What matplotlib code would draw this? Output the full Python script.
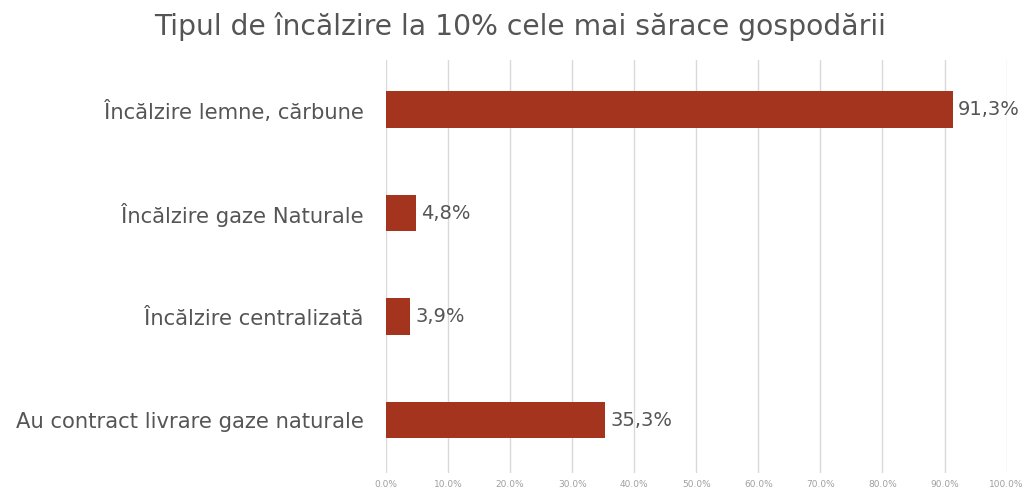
import matplotlib
matplotlib.use("Agg")
import matplotlib.pyplot as plt
from matplotlib.ticker import FuncFormatter

categories = ["Încălzire lemne, cărbune", "Încălzire gaze Naturale",
              "Încălzire centralizată", "Au contract livrare gaze naturale"]
values = [91.3, 4.8, 3.9, 35.3]
value_labels = ["91,3%", "4,8%", "3,9%", "35,3%"]
title = "Tipul de încălzire la 10% cele mai sărace gospodării"

plt.rcParams['font.family'] = ['DejaVu Sans']
txt = "#555555"
fig = plt.figure(figsize=(10.24, 4.91), dpi=100)
ax = fig.add_axes([0.377, 0.037, 0.606, 0.841])

pos = list(range(len(categories)))
ax.barh(pos, values, height=0.35, color="#A5341F", zorder=3)
for p, v, lab in zip(pos, values, value_labels):
    ax.text(v + 0.9, p, lab, va="center", ha="left", fontsize=14, color=txt)

ax.set_xlim(0, 100)
ax.set_ylim(3.51, -0.48)
ax.set_xticks(range(0, 101, 10))
ax.xaxis.set_major_formatter(FuncFormatter(lambda x, _: f"{x:.1f}%"))
ax.tick_params(axis="x", labelsize=6.5, colors="#A0A0A0", length=0, pad=5)
ax.set_yticks(pos)
ax.set_yticklabels(categories, fontsize=15.2, color=txt)
ax.tick_params(axis="y", length=0, pad=16)
ax.grid(axis="x", color="#D9D9D9", linewidth=1, zorder=0)
for s in ax.spines.values():
    s.set_visible(False)

fig.suptitle(title, x=0.508, y=0.975, fontsize=20.3, color=txt)
fig.savefig("out.png", dpi=100)
